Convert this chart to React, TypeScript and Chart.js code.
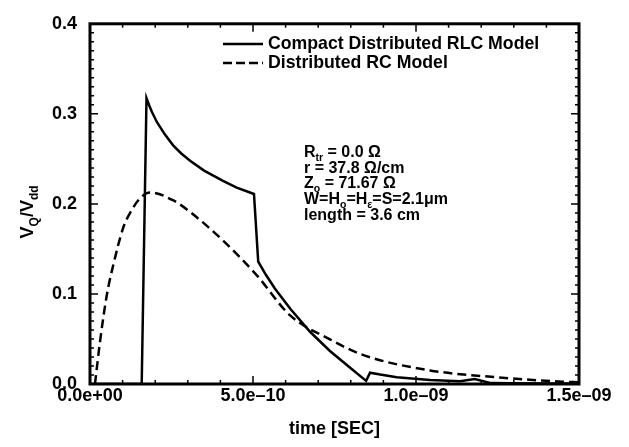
import { useEffect, useRef } from "react";
import { Chart, registerables } from "chart.js";

Chart.register(...registerables);

// ---- data ----
const xTicks = [0, 5e-10, 1.0e-9, 1.5e-9];
const yTicks = [0, 0.1, 0.2, 0.3, 0.4];
const xMinorStep = 1e-10;
const yMinorStep = 0.01;
const seriesNames = ["Compact Distributed RLC Model", "Distributed RC Model"];

const rlcTime = [
  0, 1.586e-10, 1.733e-10, 1.82e-10, 1.9e-10, 2.05e-10, 2.3e-10, 2.55e-10, 2.8e-10, 3.07e-10,
  3.5e-10, 4.08e-10, 4.5e-10, 5.03e-10, 5.16e-10, 5.4e-10, 5.67e-10, 6.15e-10, 6.75e-10,
  7.36e-10, 7.98e-10, 8.47e-10, 8.59e-10, 8.9e-10, 9.41e-10, 1.043e-9, 1.135e-9, 1.18e-9,
  1.23e-9, 1.3e-9, 1.4e-9, 1.5e-9,
];
const rlcValue = [
  0, 0, 0.3175, 0.309, 0.302, 0.291, 0.277, 0.265, 0.256, 0.248,
  0.237, 0.2255, 0.218, 0.211, 0.136, 0.121, 0.106, 0.0833, 0.058,
  0.0367, 0.018, 0.0035, 0.0126, 0.0105, 0.0075, 0.0045, 0.003, 0.0055,
  0.001, 0.0008, 0.0005, 0.0005,
];

const rcTime = [
  1.53e-11, 3.07e-11, 5.12e-11, 7.06e-11, 1.02e-10, 1.23e-10, 1.53e-10, 1.84e-10, 2.56e-10,
  3.07e-10, 4.09e-10, 5.11e-10, 6.13e-10, 7.36e-10, 8.37e-10, 1.043e-9, 1.248e-9, 1.45e-9, 1.5e-9,
];
const rcValue = [
  0, 0.047, 0.098, 0.131, 0.1736, 0.19, 0.206, 0.2127, 0.2038,
  0.191, 0.159, 0.121, 0.0765, 0.0496, 0.0323, 0.0151, 0.0075, 0.0025, 0.002,
];

type Seg = [string, boolean];
const annotationLines: Seg[][] = [
  [["R", false], ["tr", true], [" = 0.0 Ω", false]],
  [["r = 37.8 Ω/cm", false]],
  [["Z", false], ["o", true], [" = 71.67 Ω", false]],
  [["W=H", false], ["o", true], ["=H", false], ["ε", true], ["=S=2.1μm", false]],
  [["length = 3.6 cm", false]],
];
const yTitle: Seg[] = [["V", false], ["Q", true], ["/V", false], ["dd", true]];
const xTitle = "time [SEC]";

const FAMILY = '"Liberation Sans", Arial, Helvetica, sans-serif';

function fmtExp(v: number): string {
  if (v === 0) return "0.0e+00";
  const [m, e] = v.toExponential(1).split("e");
  const neg = e[0] === "-";
  const d = e.replace(/[+-]/, "").padStart(2, "0");
  return `${m}e${neg ? "–" : "+"}${d}`;
}

function segWidth(ctx: CanvasRenderingContext2D, segs: Seg[], size: number, sub: number) {
  let w = 0;
  for (const [t, s] of segs) {
    ctx.font = `bold ${s ? sub : size}px ${FAMILY}`;
    w += ctx.measureText(t).width;
  }
  return w;
}

function drawSegs(
  ctx: CanvasRenderingContext2D,
  segs: Seg[],
  x: number,
  y: number,
  size: number,
  sub: number,
  subDy: number
) {
  let cx = x;
  for (const [t, s] of segs) {
    ctx.font = `bold ${s ? sub : size}px ${FAMILY}`;
    ctx.fillText(t, cx, s ? y + subDy : y);
    cx += ctx.measureText(t).width;
  }
}

const decorPlugin = {
  id: "decor",
  afterDatasetsDraw(chart: any) {
    const { ctx, chartArea } = chart;
    const xs = chart.scales.x;
    const ys = chart.scales.y;
    const { left, right, top, bottom } = chartArea;
    ctx.save();
    ctx.strokeStyle = "#000";
    ctx.fillStyle = "#000";

    // ticks (inward, mirrored)
    ctx.lineWidth = 1.5;
    ctx.beginPath();
    const nx = Math.round((xs.max - xs.min) / xMinorStep);
    for (let i = 0; i <= nx; i++) {
      const v = xs.min + i * xMinorStep;
      const px = xs.getPixelForValue(v);
      const len = i % 5 === 0 ? 8 : 4;
      ctx.moveTo(px, bottom);
      ctx.lineTo(px, bottom - len);
      ctx.moveTo(px, top);
      ctx.lineTo(px, top + len);
    }
    const ny = Math.round((ys.max - ys.min) / yMinorStep);
    for (let i = 0; i <= ny; i++) {
      const v = ys.min + i * yMinorStep;
      const py = ys.getPixelForValue(v);
      const len = i % 10 === 0 ? 8 : 4;
      ctx.moveTo(left, py);
      ctx.lineTo(left + len, py);
      ctx.moveTo(right, py);
      ctx.lineTo(right - len, py);
    }
    ctx.stroke();

    // frame
    ctx.lineWidth = 3;
    ctx.strokeRect(left, top, right - left, bottom - top);

    // legend
    const lx0 = 223, lx1 = 263, ly = [44, 63];
    ctx.lineWidth = 2.5;
    ctx.setLineDash([]);
    ctx.beginPath();
    ctx.moveTo(lx0, ly[0]);
    ctx.lineTo(lx1, ly[0]);
    ctx.stroke();
    ctx.setLineDash([9, 4]);
    ctx.beginPath();
    ctx.moveTo(lx0, ly[1]);
    ctx.lineTo(lx1, ly[1]);
    ctx.stroke();
    ctx.setLineDash([]);
    ctx.font = `bold 17.7px ${FAMILY}`;
    ctx.textBaseline = "middle";
    ctx.textAlign = "left";
    ctx.fillText(seriesNames[0], 268, ly[0]);
    ctx.fillText(seriesNames[1], 268, ly[1]);

    // annotation
    ctx.textBaseline = "alphabetic";
    const baselines = [157, 172.5, 188, 204, 219.5];
    annotationLines.forEach((segs, i) => drawSegs(ctx, segs, 304, baselines[i], 16, 10.5, 4));

    // y title
    ctx.save();
    ctx.translate(33, (top + bottom) / 2 + 8);
    ctx.rotate(-Math.PI / 2);
    const w = segWidth(ctx, yTitle, 18, 12);
    drawSegs(ctx, yTitle, -w / 2, 0, 18, 12, 5);
    ctx.restore();

    ctx.restore();
  },
};

export default function App() {
  const ref = useRef<HTMLCanvasElement>(null);
  useEffect(() => {
    document.body.style.margin = "0";
    const canvas = ref.current!;
    const chart = new Chart(canvas, {
      type: "line",
      data: {
        datasets: [
          {
            label: seriesNames[0],
            data: rlcTime.map((t, i) => ({ x: t, y: rlcValue[i] })),
            borderColor: "#000",
            borderWidth: 2.5,
            pointRadius: 0,
            tension: 0,
            fill: false,
          },
          {
            label: seriesNames[1],
            data: rcTime.map((t, i) => ({ x: t, y: rcValue[i] })),
            borderColor: "#000",
            borderWidth: 2.5,
            borderDash: [9, 5],
            pointRadius: 0,
            cubicInterpolationMode: "monotone",
            fill: false,
          },
        ],
      },
      options: {
        animation: false,
        responsive: false,
        maintainAspectRatio: false,
        layout: { padding: { left: 0, right: 50, top: 13, bottom: 0 } },
        plugins: { legend: { display: false }, tooltip: { enabled: false } },
        scales: {
          x: {
            type: "linear",
            min: 0,
            max: 1.5e-9,
            grid: { display: false, drawTicks: false, tickLength: 0 },
            border: { display: false },
            afterBuildTicks: (s: any) => {
              s.ticks = xTicks.map((v) => ({ value: v }));
            },
            afterFit: (s: any) => {
              s.height = 63;
            },
            ticks: {
              color: "#000",
              padding: 1,
              maxRotation: 0,
              autoSkip: false,
              font: { family: FAMILY, size: 18, weight: "bold" },
              callback: (v: any) => fmtExp(Number(v)),
            },
            title: {
              display: true,
              text: xTitle,
              color: "#000",
              padding: { top: 4, bottom: 7 },
              font: { family: FAMILY, size: 18, weight: "bold" },
            },
          },
          y: {
            type: "linear",
            min: 0,
            max: 0.4,
            grid: { display: false, drawTicks: false, tickLength: 0 },
            border: { display: false },
            afterBuildTicks: (s: any) => {
              s.ticks = yTicks.map((v) => ({ value: v }));
            },
            afterFit: (s: any) => {
              s.width = 90;
            },
            ticks: {
              color: "#000",
              padding: 13,
              autoSkip: false,
              font: { family: FAMILY, size: 18, weight: "bold" },
              callback: (v: any) => Number(v).toFixed(1),
            },
          },
        },
      },
      plugins: [decorPlugin],
    } as any);
    return () => chart.destroy();
  }, []);
  return (
    <div style={{ width: 629, height: 447 }}>
      <canvas ref={ref} width={629} height={447} style={{ display: "block" }} />
    </div>
  );
}
